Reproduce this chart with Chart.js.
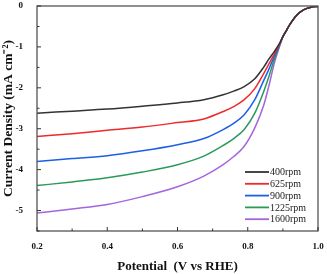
<!DOCTYPE html>
<html>
<head>
<meta charset="utf-8">
<script src="https://cdn.jsdelivr.net/npm/chart.js@4.4.0/dist/chart.umd.min.js"></script>
<style>
  html, body { margin: 0; padding: 0; background: #fff; }
  #wrap { width: 327px; height: 274px; position: relative; }
</style>
</head>
<body>
<div id="wrap"><canvas id="lsv"></canvas></div>
<script>
// Potential (V vs RHE) sample points
const potential = [0.2, 0.3, 0.4, 0.5, 0.6, 0.675, 0.73, 0.76, 0.79, 0.82, 0.845, 0.86, 0.875, 0.89,
  0.9, 0.91, 0.92, 0.94, 0.96, 0.98, 1.0];

// shared tail after the curves merge (0.9 .. 1.0)
const tail = [-0.75, -0.6, -0.45, -0.22, -0.09, -0.03, -0.01];

const rpm400 = [-2.62, -2.57, -2.52, -2.45, -2.37, -2.29, -2.17, -2.08, -1.97, -1.78, -1.5, -1.3, -1.12, -0.92].concat(tail);
const rpm625 = [-3.19, -3.12, -3.04, -2.96, -2.85, -2.76, -2.58, -2.46, -2.29, -2.02, -1.66, -1.42, -1.18, -0.94].concat(tail);
const rpm900 = [-3.80, -3.73, -3.66, -3.54, -3.39, -3.24, -3.02, -2.87, -2.66, -2.29, -1.83, -1.55, -1.24, -0.96].concat(tail);
const rpm1225 = [-4.39, -4.30, -4.20, -4.06, -3.88, -3.67, -3.41, -3.24, -3.02, -2.62, -2.1, -1.73, -1.32, -0.98].concat(tail);
const rpm1600 = [-5.06, -4.96, -4.85, -4.66, -4.42, -4.16, -3.88, -3.68, -3.43, -2.98, -2.44, -1.96, -1.42, -1.0].concat(tail);

const seriesNames = ['400rpm', '625rpm', '900rpm', '1225rpm', '1600rpm'];
const seriesColors = ['#333333', '#ee2a2a', '#1c5fe6', '#2a9a5a', '#a565dc'];

const xTicks = [0.2, 0.4, 0.6, 0.8, 1.0];
const yTicks = [0, -1, -2, -3, -4, -5];

function toPoints(ys) {
  return ys.map((y, i) => ({ x: potential[i], y: y }));
}

// Box, inward ticks and in-plot legend
const frame = {
  id: 'frame',
  afterDraw(chart) {
    const ctx = chart.ctx;
    const a = chart.chartArea;
    const xs = chart.scales.x;
    const ys = chart.scales.y;
    ctx.save();
    ctx.strokeStyle = '#555';
    ctx.lineWidth = 1.3;
    ctx.strokeRect(a.left, a.top, a.right - a.left, a.bottom - a.top);

    ctx.lineWidth = 1;
    ctx.strokeStyle = '#333';
    for (let v = 0.2; v <= 1.0001; v += 0.1) {
      const px = xs.getPixelForValue(v);
      const major = Math.abs(v * 5 - Math.round(v * 5)) < 0.01;
      const len = major ? 4 : 2.5;
      ctx.beginPath();
      ctx.moveTo(px, a.bottom);
      ctx.lineTo(px, a.bottom - len);
      ctx.stroke();
    }
    for (let v = 0; v >= -5.5; v -= 0.5) {
      const py = ys.getPixelForValue(v);
      const major = Number.isInteger(v);
      const len = major ? 4 : 2.5;
      ctx.beginPath();
      ctx.moveTo(a.left, py);
      ctx.lineTo(a.left + len, py);
      ctx.stroke();
    }

    // legend
    ctx.font = '10px "Liberation Serif"';
    ctx.textBaseline = 'middle';
    ctx.fillStyle = '#222';
    chart.data.datasets.forEach((ds, i) => {
      const y = a.bottom - 59 + i * 11.8;
      ctx.strokeStyle = ds.borderColor;
      ctx.lineWidth = 1.8;
      ctx.beginPath();
      ctx.moveTo(a.right - 73, y);
      ctx.lineTo(a.right - 49, y);
      ctx.stroke();
      ctx.fillText(ds.label, a.right - 48, y + 0.5);
    });
    ctx.restore();
  }
};

new Chart(document.getElementById('lsv'), {
  type: 'line',
  data: {
    datasets: [rpm400, rpm625, rpm900, rpm1225, rpm1600].map((ys, i) => ({
      label: seriesNames[i],
      data: toPoints(ys),
      borderColor: seriesColors[i],
      borderWidth: 1.5,
      pointRadius: 0,
      cubicInterpolationMode: 'monotone',
      fill: false,
    })),
  },
  options: {
    responsive: true,
    maintainAspectRatio: false,
    animation: false,
    layout: { padding: { top: 6, right: 9, left: 0, bottom: 0 } },
    plugins: {
      legend: { display: false },
      tooltip: { enabled: false },
    },
    scales: {
      x: {
        type: 'linear',
        min: 0.2,
        max: 1.0,
        grid: { display: false },
        border: { display: false },
        afterBuildTicks: (s) => { s.ticks = xTicks.map((v) => ({ value: v })); },
        afterFit: (s) => { s.height = 43; s.paddingRight = 0; s.paddingLeft = 0; },
        ticks: {
          padding: 2,
          color: '#111',
          maxRotation: 0,
          font: { family: 'Liberation Serif', size: 9, weight: 'bold' },
          callback: (v) => Number(v).toFixed(1),
        },
        title: {
          display: true,
          text: 'Potential  (V vs RHE)',
          color: '#111',
          padding: { top: 5, bottom: 0 },
          font: { family: 'Liberation Serif', size: 13, weight: 'bold' },
        },
      },
      y: {
        type: 'linear',
        min: -5.5,
        max: 0,
        grid: { display: false },
        border: { display: false },
        afterBuildTicks: (s) => { s.ticks = yTicks.map((v) => ({ value: v })); },
        afterFit: (s) => { s.width = 37; s.paddingTop = 0; s.paddingBottom = 0; },
        ticks: {
          padding: 6,
          color: '#111',
          font: { family: 'Liberation Serif', size: 9, weight: 'bold' },
        },
        title: {
          display: true,
          text: 'Current Density (mA cm\u207B\u00B2)',
          color: '#111',
          padding: { top: 0, bottom: 0 },
          font: { family: 'Liberation Serif', size: 13.5, weight: 'bold' },
        },
      },
    },
  },
  plugins: [frame],
});
</script>
</body>
</html>
